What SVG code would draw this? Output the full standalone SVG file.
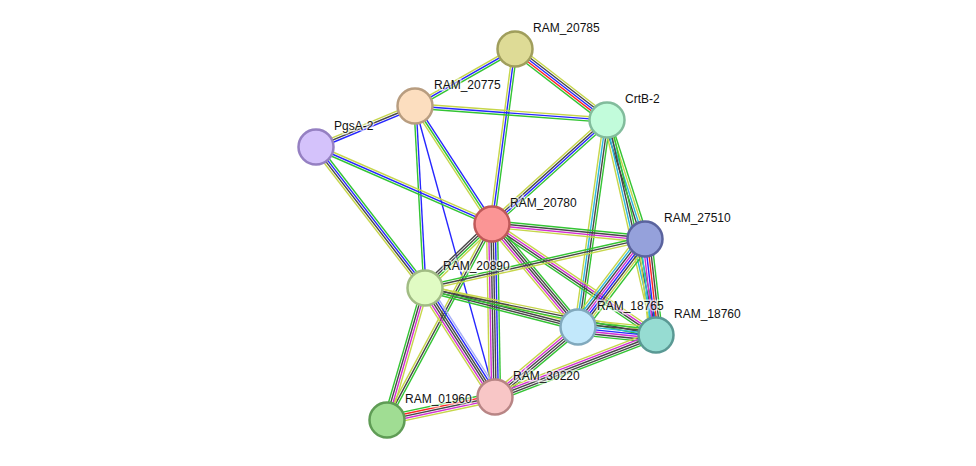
<svg xmlns="http://www.w3.org/2000/svg" width="976" height="466" viewBox="0 0 976 466">
<style>
path{fill:none;stroke-width:1.4}
.g{stroke:#33c433}.y{stroke:#c6d64a}.b{stroke:#2626ff}.k{stroke:#474747}.m{stroke:#d22fd2}.c{stroke:#2cb8dc}.r{stroke:#ff2424}.l{stroke:#a6aef8}
circle{stroke-width:2.5}
text{font-family:"Liberation Sans",Arial,sans-serif;font-size:12px;fill:#111;stroke:#fff;stroke-width:3;stroke-opacity:0.6;paint-order:stroke}
</style>
<rect width="976" height="466" fill="#fff"/>
<g id="edges">
<g transform="translate(515 49) rotate(150.3)"><path class="g" d="M0-2.2H115"/><path class="b" d="M0 0H115"/><path class="y" d="M0 2.2H115"/></g>
<g transform="translate(515 49) rotate(37.7)"><path class="y" d="M0-4.4H116"/><path class="k" d="M0-2.2H116"/><path class="b" d="M0 0H116"/><path class="r" d="M0 2.2H116"/><path class="g" d="M0 4.4H116"/></g>
<g transform="translate(515 49) rotate(97.5)"><path class="g" d="M0-2.2H177"/><path class="b" d="M0 0H177"/><path class="y" d="M0 2.2H177"/></g>
<g transform="translate(415 106) rotate(157.5)"><path class="b" d="M0-2.2H107"/><path class="k" d="M0 0H107"/><path class="y" d="M0 2.2H107"/></g>
<g transform="translate(415 106) rotate(4.2)"><path class="y" d="M0-2.2H193"/><path class="b" d="M0 0H193"/><path class="g" d="M0 2.2H193"/></g>
<g transform="translate(415 106) rotate(56.9)"><path class="b" d="M0-2.2H141"/><path class="g" d="M0 0H141"/><path class="y" d="M0 2.2H141"/></g>
<g transform="translate(415 106) rotate(86.9)"><path class="b" d="M0-1.1H182"/><path class="g" d="M0 1.1H182"/></g>
<g transform="translate(415 106) rotate(74.6)"><path class="b" d="M0 0H302"/></g>
<g transform="translate(316 147) rotate(23.6)"><path class="y" d="M0-2.2H192"/><path class="b" d="M0 0H192"/><path class="g" d="M0 2.2H192"/></g>
<g transform="translate(316 147) rotate(52.3)"><path class="g" d="M0-3.3H178"/><path class="b" d="M0-1.1H178"/><path class="k" d="M0 1.1H178"/><path class="y" d="M0 3.3H178"/></g>
<g transform="translate(607 120) rotate(137.9)"><path class="g" d="M0-3.3H155"/><path class="b" d="M0-1.1H155"/><path class="k" d="M0 1.1H155"/><path class="y" d="M0 3.3H155"/></g>
<g transform="translate(607 120) rotate(72.3)"><path class="g" d="M0-3.3H125"/><path class="y" d="M0-1.1H125"/><path class="c" d="M0 1.1H125"/><path class="k" d="M0 3.3H125"/></g>
<g transform="translate(607 120) rotate(98)"><path class="g" d="M0-3.3H209"/><path class="k" d="M0-1.1H209"/><path class="c" d="M0 1.1H209"/><path class="y" d="M0 3.3H209"/></g>
<g transform="translate(607 120) rotate(77.2)"><path class="g" d="M0-3.3H221"/><path class="k" d="M0-1.1H221"/><path class="c" d="M0 1.1H221"/><path class="y" d="M0 3.3H221"/></g>
<g transform="translate(492 224) rotate(5.6)"><path class="g" d="M0-3.3H154"/><path class="k" d="M0-1.1H154"/><path class="m" d="M0 1.1H154"/><path class="y" d="M0 3.3H154"/></g>
<g transform="translate(492 224) rotate(136.3)"><path class="y" d="M0-3.3H93"/><path class="g" d="M0-1.1H93"/><path class="k" d="M0 1.1H93"/><path class="k" d="M0 3.3H93"/></g>
<g transform="translate(492 224) rotate(50.1)"><path class="g" d="M0-4.4H134"/><path class="k" d="M0-2.2H134"/><path class="k" d="M0 0H134"/><path class="m" d="M0 2.2H134"/><path class="y" d="M0 4.4H134"/></g>
<g transform="translate(492 224) rotate(34.1)"><path class="y" d="M0-3.3H198"/><path class="m" d="M0-1.1H198"/><path class="k" d="M0 1.1H198"/><path class="g" d="M0 3.3H198"/></g>
<g transform="translate(492 224) rotate(89)"><path class="g" d="M0-5.5H173"/><path class="b" d="M0-3.3H173"/><path class="k" d="M0-1.1H173"/><path class="k" d="M0 1.1H173"/><path class="m" d="M0 3.3H173"/><path class="y" d="M0 5.5H173"/></g>
<g transform="translate(492 224) rotate(118.2)"><path class="g" d="M0-2.2H222"/><path class="k" d="M0 0H222"/><path class="y" d="M0 2.2H222"/></g>
<g transform="translate(425 288) rotate(-12.6)"><path class="g" d="M0-2.2H225"/><path class="k" d="M0 0H225"/><path class="y" d="M0 2.2H225"/></g>
<g transform="translate(425 288) rotate(14.3)"><path class="y" d="M0-3.3H158"/><path class="k" d="M0-1.1H158"/><path class="k" d="M0 1.1H158"/><path class="g" d="M0 3.3H158"/></g>
<g transform="translate(425 288) rotate(11.5)"><path class="y" d="M0-2.2H236"/><path class="k" d="M0 0H236"/><path class="g" d="M0 2.2H236"/></g>
<g transform="translate(425 288) rotate(57.3)"><path class="l" d="M0-5.5H130"/><path class="b" d="M0-3.3H130"/><path class="k" d="M0-1.1H130"/><path class="k" d="M0 1.1H130"/><path class="m" d="M0 3.3H130"/><path class="y" d="M0 5.5H130"/></g>
<g transform="translate(425 288) rotate(106.1)"><path class="y" d="M0-3.3H137"/><path class="m" d="M0-1.1H137"/><path class="k" d="M0 1.1H137"/><path class="g" d="M0 3.3H137"/></g>
<g transform="translate(645 239) rotate(127.3)"><path class="g" d="M0-7.7H111"/><path class="y" d="M0-5.5H111"/><path class="k" d="M0-3.3H111"/><path class="b" d="M0-1.1H111"/><path class="m" d="M0 1.1H111"/><path class="k" d="M0 3.3H111"/><path class="c" d="M0 5.5H111"/><path class="y" d="M0 7.7H111"/></g>
<g transform="translate(645 239) rotate(83.5)"><path class="g" d="M0-6.6H97"/><path class="k" d="M0-4.4H97"/><path class="r" d="M0-2.2H97"/><path class="b" d="M0 0H97"/><path class="m" d="M0 2.2H97"/><path class="c" d="M0 4.4H97"/><path class="y" d="M0 6.6H97"/></g>
<g transform="translate(578 327) rotate(5.9)"><path class="y" d="M0-7.7H78"/><path class="g" d="M0-5.5H78"/><path class="k" d="M0-3.3H78"/><path class="c" d="M0-1.1H78"/><path class="b" d="M0 1.1H78"/><path class="m" d="M0 3.3H78"/><path class="k" d="M0 5.5H78"/><path class="g" d="M0 7.7H78"/></g>
<g transform="translate(578 327) rotate(139.9)"><path class="g" d="M0-4.4H109"/><path class="k" d="M0-2.2H109"/><path class="k" d="M0 0H109"/><path class="m" d="M0 2.2H109"/><path class="y" d="M0 4.4H109"/></g>
<g transform="translate(656 335) rotate(158.9)"><path class="g" d="M0-4.4H172"/><path class="k" d="M0-2.2H172"/><path class="k" d="M0 0H172"/><path class="m" d="M0 2.2H172"/><path class="y" d="M0 4.4H172"/></g>
<g transform="translate(495 397) rotate(168)"><path class="y" d="M0-4.4H110"/><path class="m" d="M0-2.2H110"/><path class="k" d="M0 0H110"/><path class="r" d="M0 2.2H110"/><path class="g" d="M0 4.4H110"/></g>
</g>
<g id="RAM_20785"><circle cx="515" cy="49" r="17.5" fill="#dedb96" stroke="#a09e5c"/><text x="533" y="32">RAM_20785</text></g>
<g id="RAM_20775"><circle cx="415" cy="106" r="17.5" fill="#fcdebf" stroke="#b89d80"/><text x="434" y="89">RAM_20775</text></g>
<g id="PgsA-2"><circle cx="316" cy="147" r="17.5" fill="#d4c2fb" stroke="#9580c2"/><text x="334" y="130">PgsA-2</text></g>
<g id="CrtB-2"><circle cx="607" cy="120" r="17.5" fill="#c2fcdb" stroke="#82bc9c"/><text x="625" y="103">CrtB-2</text></g>
<g id="RAM_20780"><circle cx="492" cy="224" r="17.5" fill="#fb9595" stroke="#bf5959"/><text x="510" y="207">RAM_20780</text></g>
<g id="RAM_27510"><circle cx="645" cy="239" r="17.5" fill="#95a1db" stroke="#5a639e"/><text x="664" y="222">RAM_27510</text></g>
<g id="RAM_20890"><circle cx="425" cy="288" r="17.5" fill="#e0fbc3" stroke="#a1bc84"/><text x="443" y="270">RAM_20890</text></g>
<g id="RAM_18765"><circle cx="578" cy="327" r="17.5" fill="#c2e8fb" stroke="#81a9bd"/><text x="597" y="310">RAM_18765</text></g>
<g id="RAM_18760"><circle cx="656" cy="335" r="17.5" fill="#96dcd2" stroke="#5a9994"/><text x="674" y="318">RAM_18760</text></g>
<g id="RAM_30220"><circle cx="495" cy="397" r="17.5" fill="#f8c6c6" stroke="#b88585"/><text x="513" y="380">RAM_30220</text></g>
<g id="RAM_01960"><circle cx="387" cy="420" r="17.5" fill="#a0dd93" stroke="#5f9c55"/><text x="405" y="403">RAM_01960</text></g>
</svg>
